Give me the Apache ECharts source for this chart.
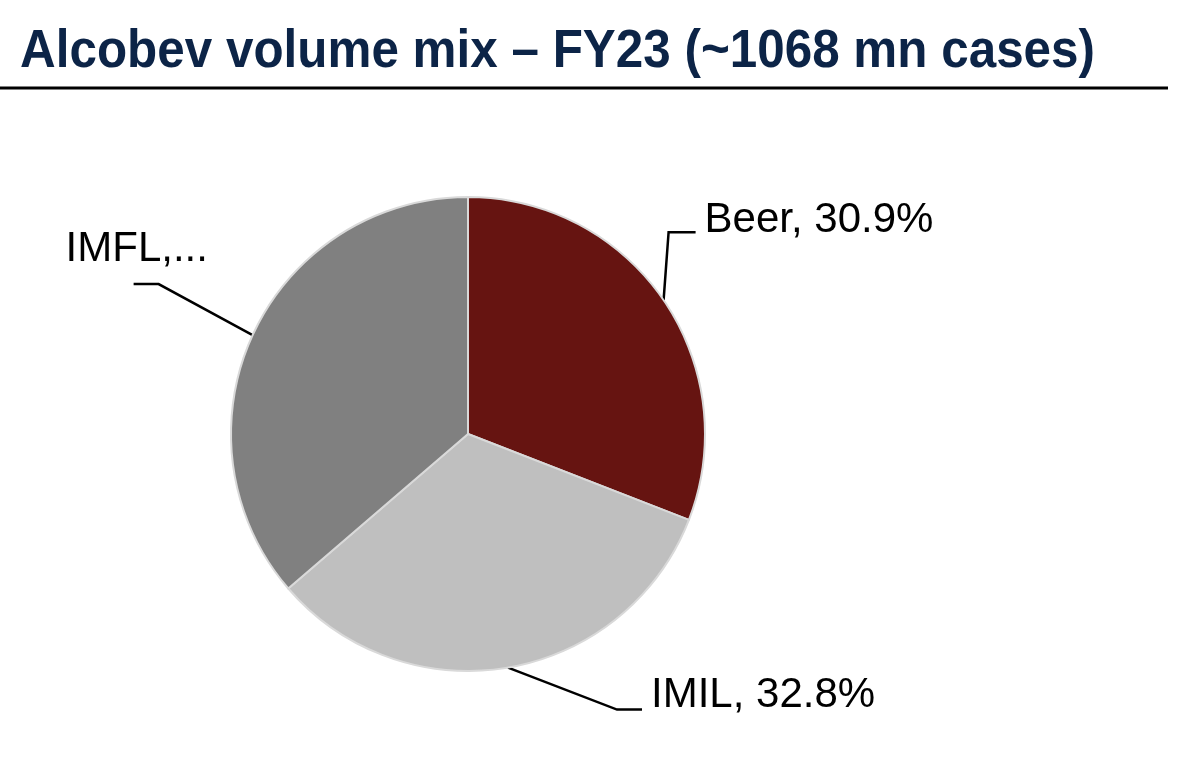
<!DOCTYPE html>
<html><head><meta charset="utf-8">
<script src="https://cdn.jsdelivr.net/npm/echarts@6/dist/echarts.min.js"></script>
<style>html,body{margin:0;padding:0;background:#fff}#c{width:1186px;height:772px}</style>
</head><body><div id="c"></div>
<script>
const categories = ['Beer', 'IMIL', 'IMFL'];
const shares = [30.9, 32.8, 36.3];
const labelTexts = ['Beer, 30.9%', 'IMIL, 32.8%', 'IMFL,...'];
const colors = ['#661411', '#BFBFBF', '#808080'];
const titleText = 'Alcobev volume mix \u2013 FY23 (~1068 mn cases)';

const chart = echarts.init(document.getElementById('c'));
// title width fit (layout)
const cv = document.createElement('canvas').getContext('2d');
cv.font = 'bold 53px "Liberation Sans"';
const tw = cv.measureText(titleText).width;
const titleScale = 1075 / tw;

const leader = [
  {d1: [5, -68], d2: [27, 0], lx: 9, ly: -12},
  {d1: [109, 42], d2: [25, 0], lx: 9, ly: -14},
  {d1: [-94, -51], d2: [-25, 0], lx: -68, ly: -35}
];
chart.setOption({
  animation: false,
  graphic: [
    {type: 'text', x: 20, y: 26, scaleX: titleScale, originX: 0,
     style: {text: titleText, font: 'bold 53px "Liberation Sans"', fill: '#0C2447', verticalAlign: 'top'}},
    {type: 'line', shape: {x1: 0, y1: 88, x2: 1168, y2: 88}, style: {stroke: '#000', lineWidth: 3}}
  ],
  series: [{
    type: 'pie',
    center: [468, 434],
    radius: 237,
    startAngle: 90,
    clockwise: true,
    data: categories.map((c, i) => ({name: c, value: shares[i], itemStyle: {color: colors[i]}})),
    itemStyle: {borderColor: '#D9D9D9', borderWidth: 2},
    label: {
      show: true,
      formatter: p => labelTexts[p.dataIndex],
      fontFamily: 'Liberation Sans', fontSize: 42, color: '#000'
    },
    labelLine: {show: true, length: 40, length2: 25, lineStyle: {color: '#000', width: 2.5}},
    labelLayout: function (p) {
      const L = leader[p.dataIndex];
      const p0 = p.labelLinePoints[0];
      const p1 = [p0[0] + L.d1[0], p0[1] + L.d1[1]];
      const p2 = [p1[0] + L.d2[0], p1[1] + L.d2[1]];
      return {
        x: p2[0] + L.lx, y: p2[1] + L.ly,
        align: 'left', verticalAlign: 'middle',
        labelLinePoints: [p0, p1, p2]
      };
    }
  }]
});
</script></body></html>
